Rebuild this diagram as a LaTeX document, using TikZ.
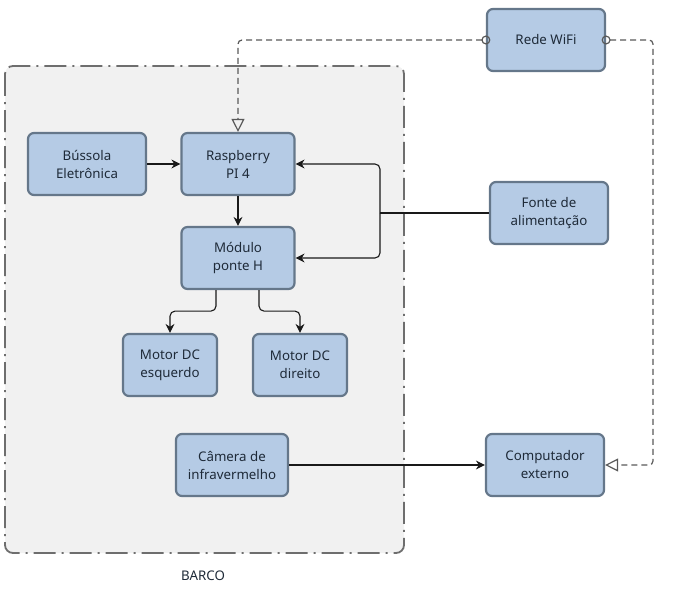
\documentclass[tikz,border=0pt]{standalone}
\usepackage{fontspec}
\setmainfont{Noto Sans}
\usetikzlibrary{arrows.meta}

\definecolor{boxfill}{HTML}{B5CBE5}
\definecolor{boxline}{HTML}{65778A}
\definecolor{areafill}{HTML}{F1F1F1}
\definecolor{arealine}{HTML}{6E6E6E}
\definecolor{boxtext}{HTML}{1E2A38}

\begin{document}
\begin{tikzpicture}
    [x=1pt,y=-1pt,font=\fontsize{13.3}{18}\selectfont,
    box/.style={rectangle,rounded corners=6pt,draw=boxline,line width=2.2pt,fill=boxfill,
      text=boxtext,align=center,minimum width=118pt,minimum height=62pt,inner sep=2pt},
    smallbox/.style={box,minimum width=94pt},
    link/.style={draw=black!90,line width=1.1pt,-{Stealth[length=9pt,width=9pt]}},
    radio/.style={draw=black!65,dash pattern=on 6pt off 4pt,line width=1.2pt,rounded corners=4pt,
      shorten <=-4.5pt,{Circle[open,length=9pt,width=9pt]}-{Triangle[open,length=13pt,width=13pt]}}]
      \useasboundingbox (0,0) rectangle (683,594);
      % area of the boat
      \draw[fill=areafill,draw=arealine,line width=1.8pt,rounded corners=8pt,
        dash pattern=on 22pt off 6pt on 2pt off 6pt] (5,66) rectangle (404,553);
      \node[text=boxtext] (barco) at (203,576) {BARCO};

      \node[box] (wifi) at (546,40) {Rede WiFi};
      \node[box] (bussola) at (87,164) {Bússola\\Eletrônica};
      \node[smallbox,minimum width=113pt] (rasp) at (238,164) {Raspberry\\PI 4};
      \node[smallbox,minimum width=113pt] (modulo) at (238,258) {Módulo\\ponte H};
      \node[box] (fonte) at (549,213) {Fonte de\\alimentação};
      \node[smallbox] (motoresq) at (170,365) {Motor DC\\esquerdo};
      \node[smallbox] (motordir) at (300,365) {Motor DC\\direito};
      \node[smallbox,minimum width=112pt] (camera) at (232,465) {Câmera de\\infravermelho};
      \node[box] (comp) at (545,465) {Computador\\externo};

      \coordinate (junc) at (380,213);
      \coordinate (volta) at (653,40);

      \draw[link] (bussola) -- (rasp);
      \draw[link] (rasp) -- (modulo);
      \draw[draw=black!90,line width=1.1pt] (fonte.west) -- (junc);
      \draw[link,rounded corners=5pt] (junc) |- (rasp.east);
      \draw[link,rounded corners=5pt] (junc) |- (modulo.east);
      \draw[link,rounded corners=5pt] ([xshift=-22pt]modulo.south) -- ++(0,21) -| (motoresq.north);
      \draw[link,rounded corners=5pt] ([xshift=21pt]modulo.south) -- ++(0,21) -| (motordir.north);
      \draw[link] (camera) -- (comp);
      \draw[radio] (wifi.west) -| (rasp.north);
      \draw[radio] (wifi.east) -- (volta) |- (comp.east);
\end{tikzpicture}
\end{document}
